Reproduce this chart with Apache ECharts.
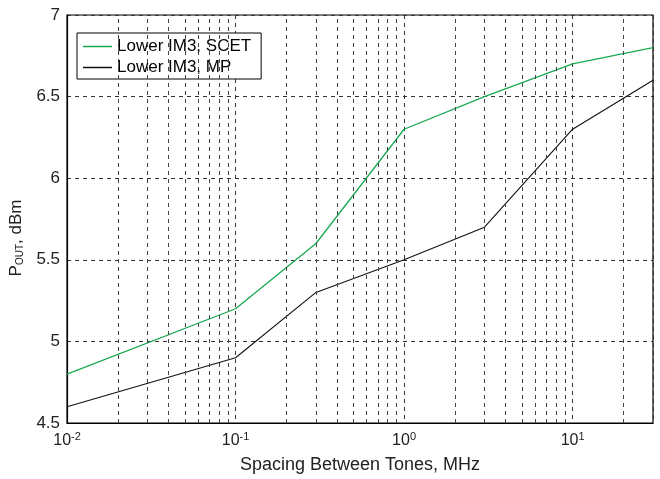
<!DOCTYPE html>
<html><head><meta charset="utf-8">
<script src="https://cdn.jsdelivr.net/npm/echarts@6/dist/echarts.min.js"></script>
<style>html,body{margin:0;padding:0;background:#fff}#c{width:660px;height:479px}</style>
</head><body><div id="c"></div>
<script>
const spacing = [0.01, 0.1, 0.3, 1, 3, 10, 30];
const scet = [4.8, 5.2, 5.6, 6.3, 6.5, 6.7, 6.8];
const mp = [4.6, 4.9, 5.3, 5.5, 5.7, 6.3, 6.6];
const minorX = [0.02,0.03,0.04,0.05,0.06,0.07,0.08,0.09,0.2,0.3,0.4,0.5,0.6,0.7,0.8,0.9,2,3,4,5,6,7,8,9,20];
const yTicks = [4.5, 5, 5.5, 6, 6.5, 7];
const FONT = 'Liberation Sans, Arial, sans-serif';

const chart = echarts.init(document.getElementById('c'));
chart.setOption({
  animation: false,
  grid: {left: 65, right: 7, top: 15, bottom: 52, show: true, borderColor: '#000', borderWidth: 1.2, backgroundColor: 'transparent'},
  legend: {
    left: 77, top: 33, orient: 'vertical', icon: 'rect', itemWidth: 29, itemHeight: 1.5, itemGap: 4,
    padding: [5, 10, 3, 6], borderColor: '#000', borderWidth: 1, backgroundColor: '#fff',
    textStyle: {fontFamily: FONT, fontSize: 17, color: '#000'},
    data: ['Lower IM3, SCET', 'Lower IM3, MP']
  },
  xAxis: {
    type: 'log', logBase: 10, min: 0.01, max: 30,
    name: 'Spacing Between Tones, MHz', nameLocation: 'middle', nameGap: 33,
    nameTextStyle: {fontFamily: FONT, fontSize: 18, color: '#222'},
    axisLine: {show: true, lineStyle: {color: '#000', width: 1.2}},
    axisTick: {show: false},
    axisLabel: {
      fontFamily: FONT, fontSize: 16, color: '#222', margin: 8,
      formatter: function (v) {
        const e = Math.round(Math.log10(v));
        if (Math.abs(v - Math.pow(10, e)) / v > 1e-6) return '';
        return '10{sup|' + e + '}';
      },
      rich: {sup: {fontSize: 11, fontFamily: FONT, color: '#222', padding: [0, 0, 8, 0]}}
    },
    splitLine: {show: true, lineStyle: {color: '#333', type: [4, 4], width: 1}}
  },
  yAxis: {
    type: 'value', min: 4.5, max: 7, interval: 0.5,
    name: '{a|P}{b|OUT}{a|, dBm}', nameLocation: 'middle', nameGap: 23, nameRotate: 90,
    nameTextStyle: {
      padding: [0, 38, 0, 0],
      rich: {
        a: {fontFamily: FONT, fontSize: 17, color: '#222'},
        b: {fontFamily: FONT, fontSize: 10, color: '#222', padding: [8, 0, 0, 0]}
      }
    },
    axisLine: {show: true, lineStyle: {color: '#000', width: 1.2}},
    axisTick: {show: false},
    axisLabel: {fontFamily: FONT, fontSize: 17, color: '#222', margin: 7,
      formatter: function (v) { return yTicks.indexOf(v) >= 0 ? String(v) : ''; }},
    splitLine: {show: true, lineStyle: {color: '#333', type: [4, 4], width: 1}}
  },
  series: [
    {
      name: 'Lower IM3, SCET', type: 'line', symbol: 'none',
      data: spacing.map((x, i) => [x, scet[i]]),
      lineStyle: {color: '#19a852', width: 1.3}, itemStyle: {color: '#19a852'},
      z: 3,
      markLine: {
        silent: true, symbol: 'none', label: {show: false},
        lineStyle: {color: '#444', type: [4, 4], width: 1},
        data: minorX.map(x => ({xAxis: x}))
      }
    },
    {
      name: 'Lower IM3, MP', type: 'line', symbol: 'none',
      data: spacing.map((x, i) => [x, mp[i]]),
      lineStyle: {color: '#111', width: 1.1}, itemStyle: {color: '#111'},
      z: 3
    }
  ]
});
</script></body></html>
